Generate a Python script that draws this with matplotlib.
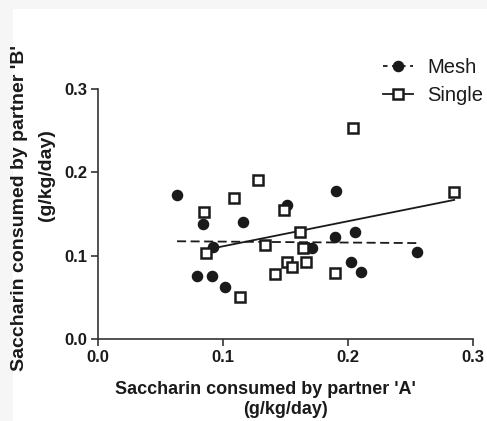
import numpy as np
import matplotlib.pyplot as plt
from matplotlib.lines import Line2D
from matplotlib.patches import Rectangle

# saccharin intake (g/kg/day) of partner A vs partner B
mesh_a = [0.063, 0.084, 0.092, 0.079, 0.091, 0.101, 0.116, 0.151,
          0.166, 0.171, 0.190, 0.189, 0.205, 0.2025, 0.2105, 0.255]
mesh_b = [0.173, 0.138, 0.111, 0.076, 0.076, 0.062, 0.140, 0.161,
          0.111, 0.109, 0.178, 0.122, 0.128, 0.092, 0.080, 0.104]

single_a = [0.0845, 0.0865, 0.1085, 0.1133, 0.128, 0.1333, 0.1415, 0.1485,
            0.151, 0.155, 0.1615, 0.1635, 0.1665, 0.189, 0.2035, 0.2847]
single_b = [0.1528, 0.103, 0.1688, 0.0508, 0.1908, 0.1125, 0.078, 0.1548,
            0.092, 0.086, 0.128, 0.109, 0.092, 0.079, 0.2536, 0.1765]

plt.rcParams['font.family'] = ['Liberation Sans', 'DejaVu Sans']
ink = '#1a1a1a'
axc = '#333333'

fig = plt.figure(figsize=(4.87, 4.21), dpi=100, facecolor='#f6f6f6')
fig.patches.append(Rectangle((13 / 487, 0), 1, 1 - 9 / 421, transform=fig.transFigure,
                             facecolor='white', edgecolor='none', zorder=-1))
ax = fig.add_axes([98.3 / 487, 1 - 339 / 421, 375 / 487, 250 / 421])
ax.set_facecolor('none')

# linear fits, drawn across each group's x range
for xs, ys, ls in [(mesh_a, mesh_b, (0, (5, 2.5))), (single_a, single_b, '-')]:
    k, b = np.polyfit(xs, ys, 1)
    xx = np.array([min(xs), max(xs)])
    ax.plot(xx, k * xx + b, color=ink, lw=1.3, linestyle=ls, zorder=2)

ax.plot(mesh_a, mesh_b, 'o', color=ink, ms=7.3, zorder=3)
ax.plot(single_a, single_b, 's', mfc='white', mec=ink, ms=7.4, mew=1.8, zorder=4)

ax.set_xlim(0, 0.3)
ax.set_ylim(0, 0.3)
ax.set_xticks([0, 0.1, 0.2, 0.3])
ax.set_yticks([0, 0.1, 0.2, 0.3])
ax.xaxis.set_major_formatter(plt.FormatStrFormatter('%.1f'))
ax.yaxis.set_major_formatter(plt.FormatStrFormatter('%.1f'))
for s in ['top', 'right']:
    ax.spines[s].set_visible(False)
for s in ['left', 'bottom']:
    ax.spines[s].set_color(axc)
    ax.spines[s].set_linewidth(1.2)
ax.tick_params(direction='out', length=5, width=1.2, color=axc,
               labelsize=12, labelcolor=ink, pad=3)
for lab in ax.get_xticklabels() + ax.get_yticklabels():
    lab.set_fontweight('bold')

# axis titles
fig.text(265 / 487, 1 - 389 / 421, "Saccharin consumed by partner 'A'",
         ha='center', va='center', fontsize=13, fontweight='bold', color=ink)
fig.text(286 / 487, 1 - 409 / 421, "(g/kg/day)",
         ha='center', va='center', fontsize=13, fontweight='bold', color=ink)
fig.text(20 / 487, 1 - 208 / 421, "Saccharin consumed by partner 'B'", rotation=90,
         ha='center', va='center', fontsize=14, fontweight='bold', color=ink)
fig.text(46 / 487, 1 - 175 / 421, "(g/kg/day)", rotation=90,
         ha='center', va='center', fontsize=14, fontweight='bold', color=ink)

handles = [
    Line2D([], [], color=ink, lw=1.3, linestyle=(0, (2.5, 2.5)), marker='o', ms=7.3),
    Line2D([], [], color=ink, lw=1.3, marker='s', mfc='white', mec=ink, ms=7.4, mew=1.8),
]
fig.legend(handles, ['Mesh', 'Single'], loc='upper left',
           bbox_to_anchor=(383 / 487, 1 - 58 / 421), frameon=False, borderpad=0,
           borderaxespad=0, fontsize=14.5, handlelength=1.5, handletextpad=0.7,
           labelspacing=0.45, labelcolor=ink)

fig.savefig('out.png', dpi=100, facecolor=fig.get_facecolor())
